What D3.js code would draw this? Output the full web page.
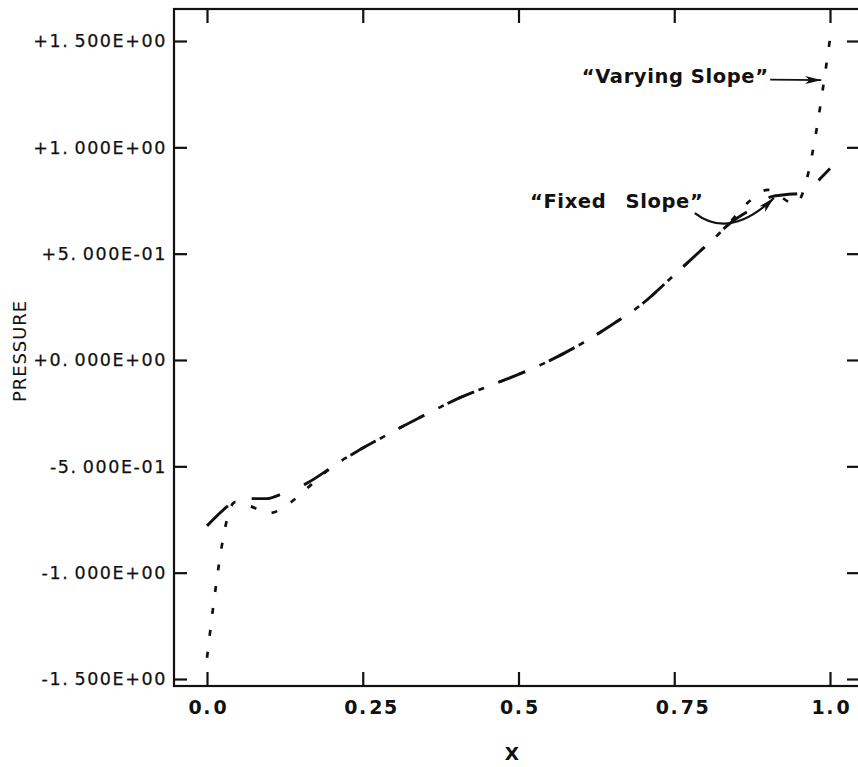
<!DOCTYPE html>
<html><head><meta charset="utf-8">
<script src="https://cdn.jsdelivr.net/npm/d3@7"></script>
<style>body{margin:0;background:#fff} svg{display:block}</style>
</head><body><svg id="c" width="858" height="767"></svg>
<script>
// ---- data ----
const xTickValues = [0, 0.25, 0.5, 0.75, 1.0];
const xTickLabels = ["0.0", "0.25", "0.5", "0.75", "1.0"];
const yTickValues = [1.5, 1.0, 0.5, 0, -0.5, -1.0, -1.5];
const yTickLabels = ["+1.500E+00", "+1.000E+00", "+5.000E-01", "+0.000E+00", "-5.000E-01", "-1.000E+00", "-1.500E+00"];

const fixedX = [0, 0.032, 0.048, 0.075, 0.096, 0.12, 0.16, 0.20, 0.24, 0.28, 0.32, 0.36, 0.40, 0.45, 0.50, 0.55, 0.60, 0.65, 0.70, 0.75, 0.80, 0.84, 0.88, 0.905, 0.93, 0.955, 0.97, 1.0];
const fixedP = [-0.78, -0.69, -0.655, -0.652, -0.652, -0.63, -0.58, -0.505, -0.431, -0.366, -0.303, -0.243, -0.185, -0.125, -0.068, -0.003, 0.075, 0.166, 0.267, 0.40, 0.535, 0.644, 0.72, 0.767, 0.778, 0.785, 0.815, 0.90];

const varyX = [0, 0.045, 0.07, 0.10, 0.135, 0.16, 0.20, 0.24, 0.28, 0.32, 0.36, 0.40, 0.45, 0.50, 0.55, 0.60, 0.65, 0.70, 0.75, 0.80, 0.83, 0.87, 0.90, 0.944, 1.0];
const varyP = [-1.40, -0.668, -0.688, -0.72, -0.668, -0.605, -0.505, -0.431, -0.366, -0.303, -0.243, -0.185, -0.125, -0.068, -0.003, 0.075, 0.166, 0.267, 0.40, 0.535, 0.617, 0.745, 0.80, 0.734, 1.51];

// annotations in data coordinates
const varyLabel = {text: "\u201CVarying Slope\u201D", x: 0.9005, y: 1.304};
const varyArrow = [[0.904, 1.318], [0.986, 1.316]];
const fixedLabel = {text: "\u201CFixed Slope\u201D", x: 0.7957, y: 0.715};
const fixedArrow = [[0.783, 0.691], [0.8395, 0.564], [0.910, 0.762]];

// ---- scales ----
const x = d3.scaleLinear().domain([0, 1]).range([207, 830]);
const y = d3.scaleLinear().domain([-1.5, 1.5]).range([679, 41]);
const frame = {left: 174, right: 860, top: 9, bottom: 686};

const svg = d3.select("#c");
const ink = "#111";
const FONT = "DejaVu Sans, Verdana, sans-serif";

// frame
svg.append("rect").attr("x", frame.left).attr("y", frame.top)
  .attr("width", frame.right - frame.left).attr("height", frame.bottom - frame.top)
  .attr("fill", "none").attr("stroke", ink).attr("stroke-width", 2.2);

// axes (ticks only)
function ticksOnly(g){ g.select(".domain").remove(); g.selectAll("line").attr("stroke", ink).attr("stroke-width", 2.2); g.selectAll("text").remove(); }
svg.append("g").attr("transform", `translate(0,${frame.bottom})`)
  .call(d3.axisBottom(x).tickValues(xTickValues).tickSize(-14)).call(ticksOnly);
svg.append("g").attr("transform", `translate(0,${frame.top})`)
  .call(d3.axisTop(x).tickValues(xTickValues).tickSize(-14)).call(ticksOnly);
svg.append("g").attr("transform", `translate(${frame.left},0)`)
  .call(d3.axisLeft(y).tickValues(yTickValues).tickSize(-13)).call(ticksOnly);
svg.append("g").attr("transform", `translate(${frame.right},0)`)
  .call(d3.axisRight(y).tickValues(yTickValues).tickSize(-13)).call(ticksOnly);

// y tick labels
yTickValues.forEach((v, i) => {
  const parts = yTickLabels[i].split(".");
  const t = svg.append("text").attr("x", frame.left - 7).attr("y", y(v)).attr("dy", "0.36em")
    .attr("text-anchor", "end").attr("font-family", FONT)
    .attr("font-size", 17.5).attr("letter-spacing", 1.6).attr("fill", ink)
    .attr("stroke", ink).attr("stroke-width", 0.25);
  t.append("tspan").text(parts[0] + ".");
  t.append("tspan").attr("dx", 5).text(parts[1]);
});

// x tick labels
xTickValues.forEach((v, i) => {
  const parts = xTickLabels[i].split(".");
  const t = svg.append("text").attr("x", x(v) - 18.5).attr("y", frame.bottom + 28)
    .attr("text-anchor", "start").attr("font-family", FONT)
    .attr("font-weight", "bold").attr("font-size", 19).attr("letter-spacing", 1.5).attr("fill", ink);
  t.append("tspan").text(parts[0] + ".");
  t.append("tspan").attr("dx", 1.5).text(parts[1]);
});

// axis titles
svg.append("text").attr("x", 512).attr("y", 760).attr("text-anchor", "middle")
  .attr("font-family", FONT).attr("font-weight", "bold")
  .attr("font-size", 18.5).attr("fill", ink).text("X");
svg.append("text").attr("transform", "translate(25.5,351) rotate(-90)").attr("text-anchor", "middle")
  .attr("font-family", FONT).attr("font-size", 18)
  .attr("letter-spacing", 0.9).attr("fill", ink).text("PRESSURE");

// curves
const line = d3.line().x(d => x(d[0])).y(d => y(d[1])).curve(d3.curveMonotoneX);
const fixedData = fixedX.map((v, i) => [v, fixedP[i]]);
const varyData = varyX.map((v, i) => [v, varyP[i]]);
svg.append("path").attr("d", line(fixedData)).attr("fill", "none").attr("stroke", ink)
  .attr("stroke-width", 2.9).attr("stroke-dasharray", "29,26");
svg.append("path").attr("d", line(varyData)).attr("fill", "none").attr("stroke", ink)
  .attr("stroke-width", 2.7).attr("stroke-dasharray", "6,16");

// arrow marker
const defs = svg.append("defs");
defs.append("marker").attr("id", "ah").attr("viewBox", "0 0 16 10").attr("refX", 16).attr("refY", 5)
  .attr("markerWidth", 16).attr("markerHeight", 10).attr("markerUnits", "userSpaceOnUse")
  .attr("orient", "auto").append("path").attr("d", "M0,1 L16,5 L0,9 L4,5 Z").attr("fill", ink);

// annotations
svg.append("text").attr("x", x(varyLabel.x) + 0.6).attr("y", y(varyLabel.y)).attr("text-anchor", "end")
  .attr("font-family", FONT).attr("font-weight", "bold").attr("font-size", 19.5)
  .attr("letter-spacing", 0.6).attr("fill", ink).text(varyLabel.text);
svg.append("path").attr("d", d3.line().x(d => x(d[0])).y(d => y(d[1]))(varyArrow))
  .attr("fill", "none").attr("stroke", ink).attr("stroke-width", 1.8).attr("marker-end", "url(#ah)");

svg.append("text").attr("x", x(fixedLabel.x) + 0.6).attr("y", y(fixedLabel.y)).attr("text-anchor", "end")
  .attr("font-family", FONT).attr("font-weight", "bold").attr("font-size", 19.5)
  .attr("letter-spacing", 0.6).attr("word-spacing", 12).attr("fill", ink).text(fixedLabel.text);
const fa = fixedArrow.map(d => [x(d[0]), y(d[1])]);
svg.append("path").attr("d", `M${fa[0][0]},${fa[0][1]} Q${fa[1][0]},${fa[1][1]} ${fa[2][0]},${fa[2][1]}`)
  .attr("fill", "none").attr("stroke", ink).attr("stroke-width", 2.2).attr("marker-end", "url(#ah)");
</script></body></html>
